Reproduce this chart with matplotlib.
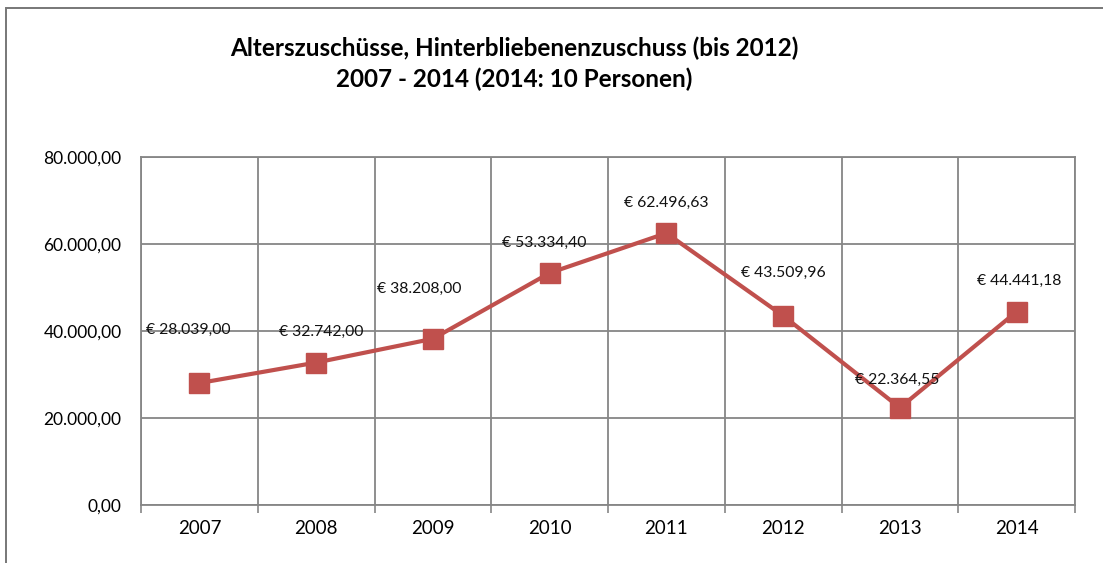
import matplotlib.pyplot as plt
from matplotlib.patches import Rectangle

years = ['2007', '2008', '2009', '2010', '2011', '2012', '2013', '2014']
values = [28039.00, 32742.00, 38208.00, 53334.40, 62496.63, 43509.96, 22364.55, 44441.18]
labels = ['€ 28.039,00', '€ 32.742,00', '€ 38.208,00', '€ 53.334,40',
          '€ 62.496,63', '€ 43.509,96', '€ 22.364,55', '€ 44.441,18']
yticks = [0, 20000, 40000, 60000, 80000]
ytick_labels = ['0,00', '20.000,00', '40.000,00', '60.000,00', '80.000,00']

# label offsets in points (dx, dy), roughly as excel placed them
label_off = [(-8, 38), (4, 22), (-10, 36), (-4, 22), (0, 22), (0, 31), (-2, 20), (2, 22)]

plt.rcParams['font.family'] = ['Lato', 'DejaVu Sans']

fig = plt.figure(figsize=(11.03, 5.63), dpi=100)
ax = fig.add_axes([141 / 1103, 1 - 505 / 563, (1075 - 141) / 1103, (505 - 157) / 563])

x = list(range(len(years)))
ax.plot(x, values, color='#C0504D', linewidth=3, marker='s', markersize=15,
        markeredgecolor='#C0504D', zorder=3)

for i in range(len(x)):
    ax.annotate(labels[i], (x[i], values[i]), xytext=label_off[i], textcoords='offset points',
                ha='center', va='center', fontsize=11.3, color='#111111', zorder=4)

ax.set_xlim(-0.5, len(years) - 0.5)
ax.set_ylim(0, 80000)
ax.set_yticks(yticks)
ax.set_yticklabels(ytick_labels, fontsize=12.5)
ax.set_xticks(x)
ax.set_xticklabels(years, fontsize=13.5)
ax.tick_params(axis='x', length=0, pad=11)
ax.tick_params(axis='y', length=0, pad=14)

# vertical gridlines at category boundaries with small ticks below axis
ax.set_xticks([i - 0.5 for i in range(len(years) + 1)], minor=True)
ax.tick_params(axis='x', which='minor', length=6, color='#868686', width=1.2)
ax.grid(True, which='minor', axis='x', color='#868686', linewidth=1.3)
ax.grid(True, which='major', axis='y', color='#868686', linewidth=1.3)
ax.set_axisbelow(True)
for s in ax.spines.values():
    s.set_color('#868686')
    s.set_linewidth(1.3)

fig.text(0.466, 0.915, 'Alterszuschüsse, Hinterbliebenenzuschuss (bis 2012)',
         ha='center', va='center', fontsize=17.5, fontweight='bold')
fig.text(0.466, 0.86, '2007 - 2014 (2014: 10 Personen)',
         ha='center', va='center', fontsize=17.5, fontweight='bold')

# outer chart frame (only left and top edges visible in the crop)
fig.patches.append(Rectangle((6 / 1103, -0.1), 1.2, 1 - 8 / 563 + 0.1, transform=fig.transFigure,
                             fill=False, edgecolor='#777777', linewidth=1.4))

fig.savefig('out.png', dpi=100)
